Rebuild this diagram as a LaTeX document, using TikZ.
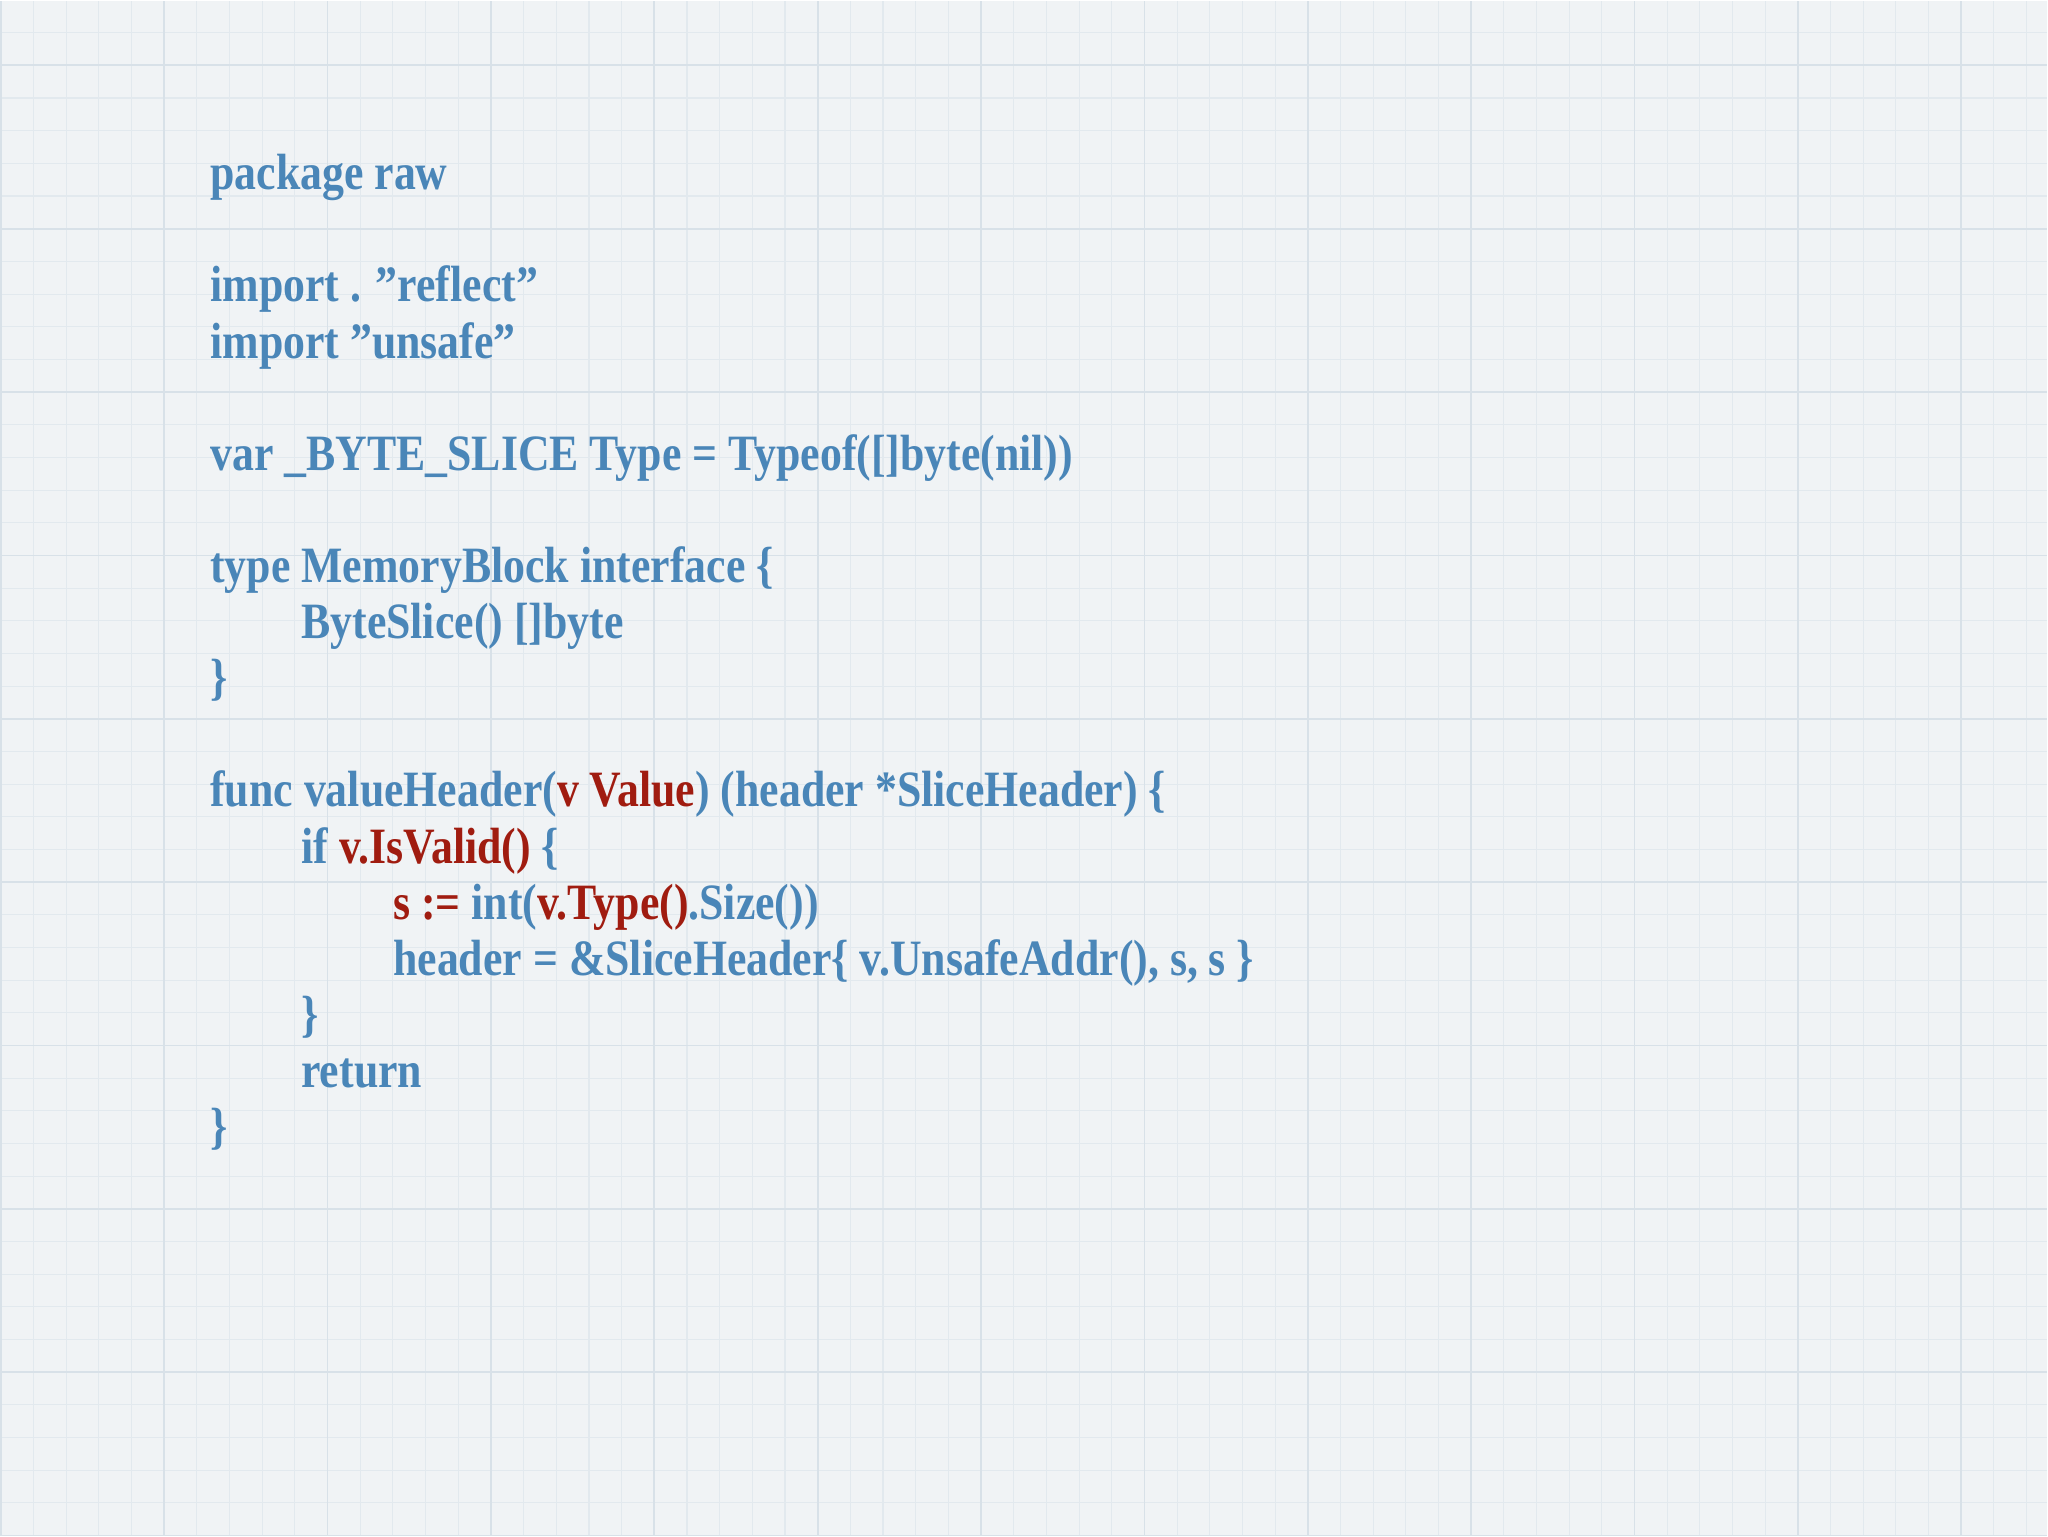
\documentclass[tikz,border=0pt]{standalone}
\usepackage{fontspec}
\defaultfontfeatures{}
\setmainfont[FakeStretch=0.86]{Liberation Serif}
\definecolor{bg}{HTML}{F0F3F5}
\definecolor{gmin}{HTML}{E2E9EE}
\definecolor{gmaj}{HTML}{D8E1E8}
\definecolor{cb}{HTML}{4A86B8}
\definecolor{cr}{HTML}{A01C10}
\newcommand{\R}[1]{\textcolor{cr}{#1}}
\newcommand{\Q}{\symbol{34}}
\begin{document}
\begin{tikzpicture}[x=1cm,y=1cm,
  code/.style={anchor=base west,inner sep=0,text=cb,font=\bfseries\fontsize{14.5}{16}\selectfont}]
\fill[bg] (0,0) rectangle (20.48,15.36);
\draw[gmin,line width=0.3pt] (0,0) grid[step=0.327] (20.48,15.36);
\draw[gmaj,line width=0.5pt] (0,0) grid[step=1.635] (20.48,15.36);
\useasboundingbox (0,0) rectangle (20.48,15.36);
\def\dy{0.5616}
\def\ya{13.47}
\node[code] (l0) at (2.09,\ya) {package raw};
\node[code] (l2) at (2.09,\ya-2*\dy) {import . \Q reflect\Q};
\node[code] (l3) at (2.09,\ya-3*\dy) {import \Q unsafe\Q};
\node[code] (l5) at (2.09,\ya-5*\dy) {var \_BYTE\_SLICE Type = Typeof([]byte(nil))};
\node[code] (l7) at (2.09,\ya-7*\dy) {type MemoryBlock interface \{};
\node[code] (l8) at (3.00,\ya-8*\dy) {ByteSlice() []byte};
\node[code] (l9) at (2.09,\ya-9*\dy) {\}};
\node[code] (l11) at (2.09,\ya-11*\dy) {func valueHeader(\R{v Value}) (header *SliceHeader) \{};
\node[code] (l12) at (3.00,\ya-12*\dy) {if \R{v.IsValid()} \{};
\node[code] (l13) at (3.92,\ya-13*\dy) {\R{s :=} int(\R{v.Type()}.Size())};
\node[code] (l14) at (3.92,\ya-14*\dy) {header = \&SliceHeader\{ v.UnsafeAddr(), s, s \}};
\node[code] (l15) at (3.00,\ya-15*\dy) {\}};
\node[code] (l16) at (3.00,\ya-16*\dy) {return};
\node[code] (l17) at (2.09,\ya-17*\dy) {\}};
\end{tikzpicture}
\end{document}
